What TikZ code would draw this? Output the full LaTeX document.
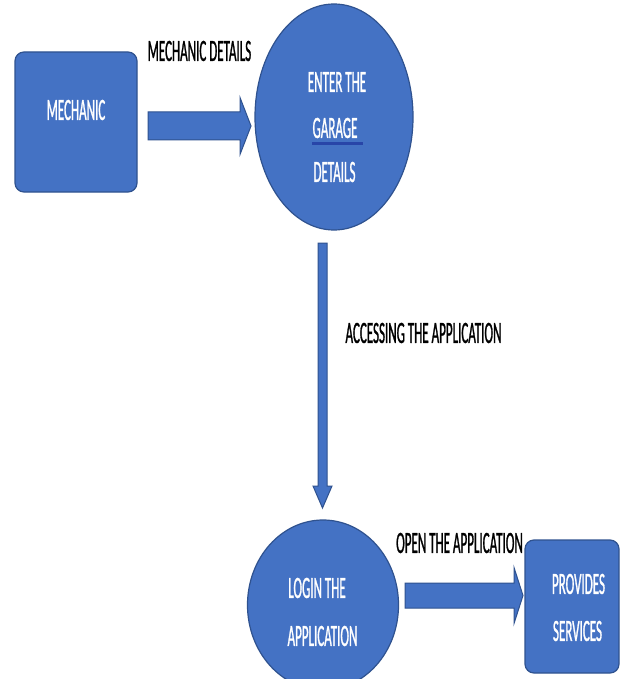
\documentclass[tikz,border=0pt]{standalone}
\usepackage{fontspec}
\setmainfont{Carlito}
\newfontfamily\cond[FakeStretch=0.42,FakeBold=0.8]{Carlito}
\usetikzlibrary{shapes.geometric,calc}
\definecolor{blu}{HTML}{4472C4}
\definecolor{blubd}{HTML}{2F528F}
\definecolor{ulblue}{HTML}{2845A8}
\tikzset{
  rbox/.style={draw=blubd, fill=blu, line width=1.2pt, rounded corners=9pt, inner sep=0},
  ell/.style={ellipse, draw=blubd, fill=blu, line width=1.2pt, inner sep=0},
  intext/.style={text=white, font=\cond\fontsize{31}{46}\selectfont, inner sep=0},
  lbl/.style={text=black, font=\cond\fontsize{31}{46}\selectfont, inner sep=0},
  blk/.style={draw=blubd, fill=blu, line width=1pt},
  ul/.style={draw=ulblue, line width=2.4pt}
}
\newcommand\harrow[5]{\draw[blk] let \p1=(#1), \p2=(#2) in
  ({\x1},{\y1+#3}) -- ({\x2-#5},{\y1+#3}) -- ({\x2-#5},{\y1+#4}) -- ({\x2},{\y1})
  -- ({\x2-#5},{\y1-#4}) -- ({\x2-#5},{\y1-#3}) -- ({\x1},{\y1-#3}) -- cycle;}
\newcommand\varrow[5]{\draw[blk] let \p1=(#1), \p2=(#2) in
  ({\x1-#3},{\y1}) -- ({\x1-#3},{\y2+#5}) -- ({\x1-#4},{\y2+#5}) -- ({\x1},{\y2})
  -- ({\x1+#4},{\y2+#5}) -- ({\x1+#3},{\y2+#5}) -- ({\x1+#3},{\y1}) -- cycle;}
\begin{document}
\begin{tikzpicture}[x=1pt,y=-1pt]
\useasboundingbox[fill=white] (0,0) rectangle (621,679);
% shapes
\node[rbox, minimum width=122pt, minimum height=140pt] (mech) at (76,122) {};
\node[intext] (mechT) at (76,110) {MECHANIC};
\node[ell, minimum width=158pt, minimum height=226pt] (enter) at (334,117) {};
\node[intext] (e1) at (337,82) {ENTER THE};
\node[intext] (e2) at (335,128) {GARAGE};
\node[intext] (e3) at (334.5,172) {DETAILS};
\draw[ul] ($(e2.south west)+(0,5)$) -- ($(e2.south east)+(5,5)$);
\node[ell, minimum width=151pt, minimum height=170pt] (login) at (323,605) {};
\node[intext] (g1) at (317,588) {LOGIN THE};
\node[intext] (g2) at (322.5,636) {APPLICATION};
\node[rbox, minimum width=94pt, minimum height=133pt] (prov) at (572,606.5) {};
\node[intext] (p1) at (578.5,584) {PROVIDES};
\node[intext] (p2) at (577.5,631) {SERVICES};
% labels
\node[lbl] (l1) at (199.5,51) {MECHANIC DETAILS};
\node[lbl] (l2) at (423.5,333) {ACCESSING THE APPLICATION};
\node[lbl] (l3) at (459.5,543) {OPEN THE APPLICATION};
% arrow end points
\coordinate (a1s) at (148,126);
\coordinate (a1e) at (251,126);
\coordinate (a2s) at (322.5,243);
\coordinate (a2e) at (322.5,508);
\coordinate (a3s) at (405,595.5);
\coordinate (a3e) at (523,595.5);
\harrow{a1s}{a1e}{14pt}{28.5pt}{11pt}
\varrow{a2s}{a2e}{4.5pt}{9.5pt}{22pt}
\harrow{a3s}{a3e}{12.5pt}{28pt}{9pt}
\end{tikzpicture}
\end{document}
